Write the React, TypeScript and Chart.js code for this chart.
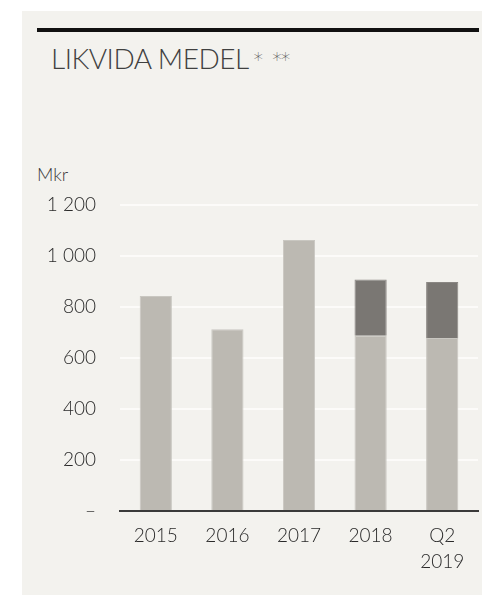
import React, { useEffect, useRef } from "react";
import { Chart, registerables } from "chart.js";

Chart.register(...registerables);

const categories: (string | string[])[] = ["2015", "2016", "2017", "2018", ["Q2", "2019"]];
const baseValues = [843, 713, 1063, 687, 678];
const extraValues = [0, 0, 0, 221, 220];
const yTickLabels: Record<number, string> = {
  0: "–",
  200: "200",
  400: "400",
  600: "600",
  800: "800",
  1000: "1 000",
  1200: "1 200",
};

const FONT = "Lato, 'DejaVu Sans', sans-serif";

export default function App() {
  const ref = useRef<HTMLCanvasElement | null>(null);

  useEffect(() => {
    document.body.style.margin = "0";
    const ctx = ref.current!;
    const chart = new Chart(ctx, {
      type: "bar",
      data: {
        labels: categories,
        datasets: [
          {
            data: baseValues,
            backgroundColor: "#bcb9b2",
            borderColor: "#c9c7c1",
            borderWidth: 1,
            borderSkipped: "bottom",
            barPercentage: 0.9,
            categoryPercentage: 0.5,
          },
          {
            data: extraValues,
            backgroundColor: "#7a7773",
            borderColor: "#8a8783",
            borderWidth: 1,
            borderSkipped: "bottom",
            barPercentage: 0.9,
            categoryPercentage: 0.5,
          },
        ],
      },
      options: {
        animation: false,
        responsive: false,
        maintainAspectRatio: false,
        layout: { padding: { top: 205, left: 0, right: 4, bottom: 20 } },
        plugins: { legend: { display: false }, tooltip: { enabled: false }, title: { display: false } },
        scales: {
          x: {
            stacked: true,
            grid: { display: false, drawTicks: false },
            border: { display: true, color: "#3a3a3a", width: 2 },
            ticks: {
              color: "#2a2a2a",
              font: { family: FONT, size: 19, weight: "300", lineHeight: 1.38 },
              padding: 12,
              maxRotation: 0,
            },
            afterFit: (axis: any) => {
              axis.height = 64;
            },
          },
          y: {
            stacked: true,
            min: 0,
            max: 1200,
            grid: {
              color: (c: any) => (c.tick && c.tick.value === 0 ? "rgba(0,0,0,0)" : "#fcfbf9"),
              lineWidth: 2,
              drawTicks: false,
            },
            border: { display: false },
            ticks: {
              stepSize: 200,
              color: "#2a2a2a",
              font: { family: FONT, size: 19, weight: "300" },
              padding: 24,
              callback: (v: any) => yTickLabels[v as number] ?? String(v),
            },
            afterFit: (axis: any) => {
              axis.width = 120;
            },
          },
        },
      },
    });
    return () => chart.destroy();
  }, []);

  return (
    <div style={{ position: "relative", width: 482, height: 595, background: "#ffffff", overflow: "hidden" }}>
      <div
        style={{
          position: "absolute",
          left: 22,
          top: 11,
          width: 460,
          height: 584,
          background: "#f3f2ee",
        }}
      />
      <div
        style={{
          position: "absolute",
          left: 37,
          top: 28,
          width: 442,
          height: 4,
          background: "#111111",
        }}
      />
      <div
        style={{
          position: "absolute",
          left: 51,
          top: 40,
          fontFamily: FONT,
          fontWeight: 300,
          fontSize: 28,
          color: "#404040",
          whiteSpace: "nowrap",
          lineHeight: "36px",
          letterSpacing: -0.5,
        }}
      >
        LIKVIDA MEDEL
        <span
          style={{
            fontFamily: "'DejaVu Sans', sans-serif",
            fontSize: 19,
            verticalAlign: "top",
            position: "relative",
            top: 1,
            marginLeft: 5,
            color: "#555",
            letterSpacing: -1,
          }}
        >
          *&nbsp;&nbsp;**
        </span>
      </div>
      <div
        style={{
          position: "absolute",
          left: 37,
          top: 163,
          fontFamily: FONT,
          fontWeight: 300,
          fontSize: 18,
          color: "#3a3a3a",
          lineHeight: "22px",
        }}
      >
        Mkr
      </div>
      <canvas ref={ref} width={482} height={595} style={{ position: "absolute", left: 0, top: 0, width: 482, height: 595 }} />
    </div>
  );
}
